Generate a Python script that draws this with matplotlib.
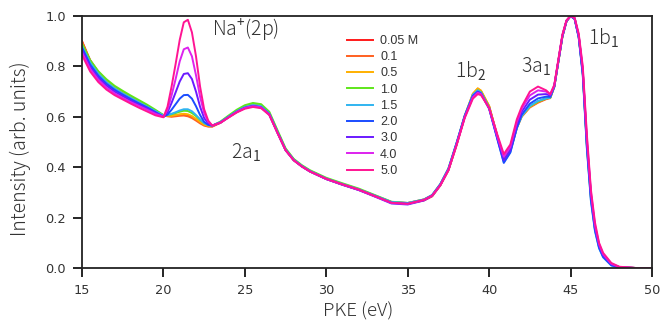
import matplotlib
matplotlib.use("Agg")
import matplotlib.pyplot as plt
from matplotlib.ticker import FormatStrFormatter

# Photoelectron kinetic energy grid (eV)
pke = [15, 15.5, 16, 16.5, 17, 17.5, 18, 18.5, 19, 19.5,
       20, 20.25, 20.5, 20.75, 21, 21.25, 21.5, 21.75, 22, 22.25, 22.5, 22.75, 23,
       23.5, 24, 24.5, 25, 25.5, 26, 26.5, 27, 27.5, 28, 28.5, 29, 30, 31, 32, 33, 34, 35, 36, 36.5, 37, 37.5, 38,
       38.5, 39, 39.3, 39.5, 40, 40.5, 40.9, 41.3, 41.7, 42, 42.5, 43, 43.5, 43.75, 44, 44.25, 44.5, 44.75, 45, 45.25,
       45.5, 45.75, 46, 46.25, 46.5, 46.75, 47, 47.5, 48, 49, 50]

# Normalised intensity for each NaI concentration
int_005 = [0.90, 0.825, 0.778, 0.744, 0.718, 0.697, 0.677, 0.659, 0.641, 0.623,
           0.605, 0.603, 0.603, 0.606, 0.608, 0.61, 0.607, 0.60, 0.59, 0.578, 0.568, 0.563, 0.562,
           0.578, 0.60, 0.62, 0.637, 0.645, 0.64, 0.612, 0.54, 0.47, 0.43, 0.405, 0.385, 0.355, 0.333, 0.312, 0.287, 0.262, 0.258, 0.272, 0.288, 0.33, 0.39, 0.49,
           0.60, 0.685, 0.708, 0.70, 0.64, 0.525, 0.435, 0.47, 0.56, 0.605, 0.64, 0.658, 0.672, 0.676, 0.72, 0.82, 0.92, 0.98, 1.0, 0.99,
           0.92, 0.78, 0.50, 0.29, 0.16, 0.09, 0.05, 0.015, 0.003, 0.0, 0.0]
int_01 = [0.90, 0.82, 0.773, 0.74, 0.714, 0.693, 0.674, 0.656, 0.639, 0.622,
          0.605, 0.602, 0.60, 0.602, 0.604, 0.605, 0.602, 0.595, 0.585, 0.574, 0.565, 0.561, 0.561,
          0.576, 0.60, 0.623, 0.641, 0.65, 0.644, 0.615, 0.542, 0.47, 0.428, 0.403, 0.383, 0.353, 0.33, 0.31, 0.284, 0.26, 0.255, 0.268, 0.284, 0.327, 0.387, 0.487,
          0.602, 0.69, 0.712, 0.703, 0.642, 0.522, 0.428, 0.465, 0.555, 0.60, 0.637, 0.656, 0.67, 0.674, 0.718, 0.818, 0.918, 0.98, 1.0, 0.99,
          0.918, 0.775, 0.49, 0.28, 0.155, 0.085, 0.047, 0.013, 0.002, 0.0, 0.0]
int_05 = [0.89, 0.82, 0.775, 0.742, 0.716, 0.696, 0.677, 0.659, 0.642, 0.625,
          0.605, 0.604, 0.604, 0.607, 0.61, 0.612, 0.61, 0.603, 0.592, 0.58, 0.569, 0.564, 0.563,
          0.578, 0.601, 0.623, 0.64, 0.648, 0.643, 0.614, 0.541, 0.471, 0.43, 0.405, 0.385, 0.355, 0.332, 0.312, 0.286, 0.261, 0.257, 0.27, 0.286, 0.329, 0.39, 0.492,
          0.604, 0.692, 0.713, 0.704, 0.643, 0.524, 0.43, 0.467, 0.558, 0.603, 0.64, 0.66, 0.673, 0.676, 0.72, 0.82, 0.92, 0.98, 1.0, 0.99,
          0.92, 0.777, 0.495, 0.285, 0.157, 0.087, 0.048, 0.014, 0.003, 0.0, 0.0]
int_10 = [0.89, 0.825, 0.781, 0.749, 0.723, 0.703, 0.684, 0.666, 0.648, 0.628,
          0.607, 0.607, 0.61, 0.615, 0.62, 0.624, 0.623, 0.615, 0.603, 0.588, 0.575, 0.567, 0.565,
          0.581, 0.605, 0.628, 0.646, 0.655, 0.65, 0.62, 0.547, 0.475, 0.433, 0.408, 0.388, 0.358, 0.336, 0.315, 0.289, 0.263, 0.258, 0.272, 0.289, 0.333, 0.395, 0.495,
          0.602, 0.685, 0.705, 0.698, 0.638, 0.52, 0.428, 0.466, 0.558, 0.604, 0.642, 0.661, 0.673, 0.676, 0.72, 0.82, 0.92, 0.98, 1.0, 0.99,
          0.918, 0.775, 0.49, 0.28, 0.155, 0.086, 0.047, 0.013, 0.003, 0.0, 0.0]
int_15 = [0.88, 0.815, 0.771, 0.738, 0.713, 0.693, 0.675, 0.657, 0.64, 0.623,
          0.605, 0.607, 0.612, 0.618, 0.625, 0.63, 0.63, 0.622, 0.607, 0.59, 0.575, 0.567, 0.565,
          0.579, 0.601, 0.622, 0.639, 0.647, 0.642, 0.613, 0.54, 0.47, 0.43, 0.405, 0.385, 0.355, 0.333, 0.312, 0.287, 0.262, 0.258, 0.272, 0.29, 0.333, 0.395, 0.497,
          0.605, 0.688, 0.705, 0.697, 0.635, 0.515, 0.42, 0.46, 0.555, 0.603, 0.643, 0.663, 0.673, 0.676, 0.72, 0.82, 0.92, 0.98, 1.0, 0.988,
          0.915, 0.765, 0.475, 0.265, 0.145, 0.078, 0.042, 0.01, 0.002, 0.0, 0.0]
int_20 = [0.875, 0.807, 0.763, 0.731, 0.707, 0.688, 0.67, 0.653, 0.637, 0.619,
          0.60, 0.609, 0.628, 0.65, 0.672, 0.686, 0.687, 0.672, 0.642, 0.607, 0.58, 0.568, 0.565,
          0.577, 0.599, 0.62, 0.636, 0.643, 0.638, 0.61, 0.538, 0.468, 0.428, 0.403, 0.383, 0.353, 0.331, 0.31, 0.285, 0.259, 0.255, 0.27, 0.288, 0.331, 0.392, 0.495,
          0.603, 0.683, 0.70, 0.693, 0.632, 0.512, 0.417, 0.458, 0.556, 0.608, 0.652, 0.673, 0.68, 0.679, 0.72, 0.82, 0.92, 0.98, 1.0, 0.988,
          0.915, 0.767, 0.48, 0.27, 0.15, 0.08, 0.044, 0.011, 0.002, 0.0, 0.0]
int_30 = [0.865, 0.798, 0.755, 0.724, 0.70, 0.682, 0.664, 0.648, 0.633, 0.616,
          0.60, 0.618, 0.655, 0.697, 0.74, 0.77, 0.773, 0.75, 0.70, 0.64, 0.595, 0.574, 0.565,
          0.577, 0.598, 0.619, 0.635, 0.642, 0.637, 0.609, 0.537, 0.468, 0.428, 0.403, 0.383, 0.353, 0.33, 0.309, 0.283, 0.256, 0.252, 0.268, 0.286, 0.329, 0.39, 0.492,
          0.60, 0.68, 0.698, 0.692, 0.633, 0.517, 0.428, 0.468, 0.568, 0.62, 0.668, 0.688, 0.69, 0.684, 0.722, 0.822, 0.922, 0.98, 1.0, 0.99,
          0.92, 0.78, 0.50, 0.29, 0.16, 0.09, 0.05, 0.015, 0.003, 0.0, 0.0]
int_40 = [0.855, 0.79, 0.747, 0.716, 0.693, 0.675, 0.658, 0.643, 0.628, 0.612,
          0.60, 0.628, 0.685, 0.75, 0.82, 0.868, 0.875, 0.84, 0.765, 0.68, 0.615, 0.58, 0.565,
          0.577, 0.598, 0.619, 0.635, 0.642, 0.637, 0.609, 0.537, 0.468, 0.428, 0.403, 0.383, 0.353, 0.331, 0.31, 0.284, 0.258, 0.254, 0.27, 0.287, 0.329, 0.39, 0.49,
          0.598, 0.677, 0.695, 0.69, 0.635, 0.523, 0.442, 0.48, 0.58, 0.632, 0.685, 0.705, 0.70, 0.688, 0.724, 0.824, 0.924, 0.982, 1.0, 0.992,
          0.925, 0.79, 0.515, 0.30, 0.17, 0.095, 0.055, 0.017, 0.004, 0.0, 0.0]
int_50 = [0.845, 0.78, 0.738, 0.708, 0.686, 0.669, 0.652, 0.636, 0.621, 0.606,
          0.598, 0.64, 0.72, 0.81, 0.905, 0.975, 0.985, 0.935, 0.84, 0.72, 0.63, 0.585, 0.565,
          0.576, 0.597, 0.617, 0.632, 0.639, 0.634, 0.607, 0.536, 0.467, 0.427, 0.403, 0.383, 0.354, 0.332, 0.311, 0.285, 0.259, 0.255, 0.27, 0.287, 0.328, 0.388, 0.488,
          0.595, 0.672, 0.69, 0.686, 0.635, 0.53, 0.452, 0.49, 0.59, 0.64, 0.70, 0.72, 0.705, 0.69, 0.727, 0.827, 0.927, 0.983, 1.0, 0.993,
          0.93, 0.80, 0.53, 0.31, 0.18, 0.10, 0.06, 0.02, 0.005, 0.0, 0.0]

conc_labels = ["0.05 M", "0.1", "0.5", "1.0", "1.5", "2.0", "3.0", "4.0", "5.0"]
series = [int_005, int_01, int_05, int_10, int_15, int_20, int_30, int_40, int_50]
colors = ["#ff1a1a", "#ff6020", "#ffb000", "#5ee61a", "#30b4f0",
          "#1a4cff", "#6a1aff", "#dd22ee", "#ff1493"]

plt.rcParams["mathtext.fontset"] = "custom"
plt.rcParams["mathtext.rm"] = "Noto Sans CJK JP"

fig = plt.figure(figsize=(6.61, 3.25), dpi=100)
ax = fig.add_axes([82 / 661, 1 - 268 / 325, 570 / 661, 252 / 325])

for y, c, lab in zip(series, colors, conc_labels):
    ax.plot(pke, y, color=c, lw=1.4, label=lab)

ax.set_xlim(15, 50)
ax.set_ylim(0, 1.0)
ax.set_xticks(range(15, 51, 5))
ax.set_yticks([0, 0.2, 0.4, 0.6, 0.8, 1.0])
ax.yaxis.set_major_formatter(FormatStrFormatter("%.1f"))
ax.tick_params(direction="out", length=6.5, width=1.2, pad=5, labelsize=9.3, colors="black")
for lbl in ax.get_xticklabels() + ax.get_yticklabels():
    lbl.set_fontfamily("DejaVu Sans")
    lbl.set_color("#333333")
for s in ax.spines.values():
    s.set_linewidth(1.3)
    s.set_color("#222222")

lab_font = dict(family="Noto Sans CJK JP", fontsize=13.5, color="#333333", fontweight="light")
ax.set_xlabel("PKE (eV)", **lab_font)
ax.set_ylabel("Intensity (arb. units)", fontsize=14, family="Noto Sans CJK JP",
              color="#333333", fontweight="light")
ax.xaxis.set_label_coords(0.484, -0.135)
ax.yaxis.set_label_coords(-0.09, 0.475)

ann = dict(family="Noto Sans CJK JP", fontsize=14, color="#333333", ha="center", va="center",
           fontweight="light")
ax.text(25.07, 0.95, r"Na$^{\mathrm{+}}$(2p)", **ann)
ax.text(25.1, 0.455, r"2a$_{\mathrm{1}}$", **ann)
ax.text(38.85, 0.78, r"1b$_{\mathrm{2}}$", **ann)
ax.text(42.85, 0.80, r"3a$_{\mathrm{1}}$", **ann)
ax.text(47.0, 0.91, r"1b$_{\mathrm{1}}$", **ann)

leg = ax.legend(loc="upper left", bbox_to_anchor=(0.465, 0.925), frameon=False,
                prop={"family": "Liberation Sans", "size": 9}, handlelength=2.1,
                handletextpad=0.55, labelspacing=0.34, borderpad=0, borderaxespad=0)
for t in leg.get_texts():
    t.set_color("#333333")

fig.savefig("out.png", dpi=100)
